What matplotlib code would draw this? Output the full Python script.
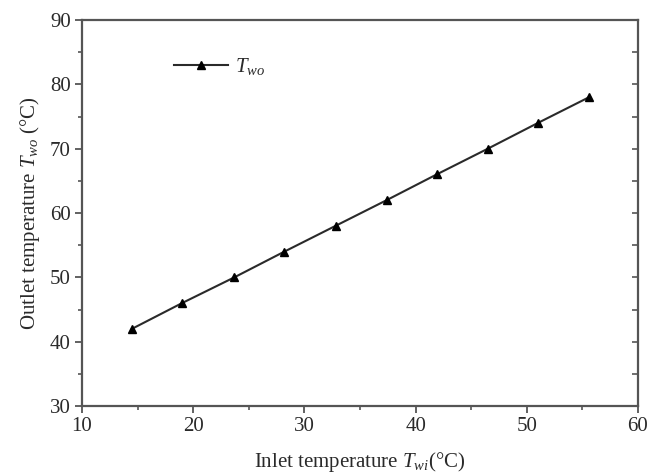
import matplotlib
matplotlib.use("Agg")
import matplotlib.pyplot as plt
from matplotlib.ticker import MultipleLocator

plt.rcParams['font.family'] = ['Liberation Serif', 'DejaVu Serif']
plt.rcParams['mathtext.fontset'] = 'custom'
plt.rcParams['mathtext.it'] = 'Liberation Serif:italic'
plt.rcParams['mathtext.rm'] = 'Liberation Serif'

inlet_temp = [14.5, 19.0, 23.7, 28.2, 32.8, 37.4, 41.9, 46.5, 51.0, 55.6]
outlet_temp = [42, 46, 50, 54, 58, 62, 66, 70, 74, 78]
x_ticks = [10, 20, 30, 40, 50, 60]
y_ticks = [30, 40, 50, 60, 70, 80, 90]

fig = plt.figure(figsize=(6.52, 4.76), dpi=100)
ax = fig.add_axes([82/652, 1 - 406/476, (638-82)/652, (406-20)/476])

ink = '#2a2a2a'
spine_c = '#555555'
ax.plot(inlet_temp, outlet_temp, color=ink, lw=1.5, marker='^', ms=6,
        markerfacecolor='black', markeredgecolor='black', label=r'$T_{wo}$')

ax.set_xlim(10, 60)
ax.set_ylim(30, 90)
ax.set_xticks(x_ticks)
ax.set_yticks(y_ticks)
ax.xaxis.set_minor_locator(MultipleLocator(5))
ax.yaxis.set_minor_locator(MultipleLocator(5))

for s in ax.spines.values():
    s.set_color(spine_c)
    s.set_linewidth(1.6)

ax.tick_params(axis='both', which='major', direction='out', length=5, width=1.3,
               colors=spine_c, labelcolor=ink, labelsize=15,
               top=False, right=False, pad=3)
ax.tick_params(axis='both', which='minor', direction='out', length=3, width=1.2,
               colors=spine_c, top=False, right=False)

# right-side inward ticks without labels
ax2 = ax.twinx()
ax2.set_ylim(30, 90)
ax2.set_yticks(y_ticks)
ax2.yaxis.set_minor_locator(MultipleLocator(5))
ax2.tick_params(axis='y', which='both', direction='in', length=4, width=1.2,
                colors=spine_c, labelright=False)
for s in ax2.spines.values():
    s.set_visible(False)

ax.set_xlabel(r'Inlet temperature $T_{wi}$(°C)', fontsize=15, color=ink, labelpad=10)
ax.set_ylabel(r'Outlet temperature $T_{wo}$ (°C)', fontsize=15, color=ink, labelpad=6)

leg = ax.legend(loc='upper left', bbox_to_anchor=(0.132, 0.955), frameon=False,
                fontsize=15, handlelength=2.6, handletextpad=0.3)
for t in leg.get_texts():
    t.set_color(ink)

fig.savefig('out.png', dpi=100)
